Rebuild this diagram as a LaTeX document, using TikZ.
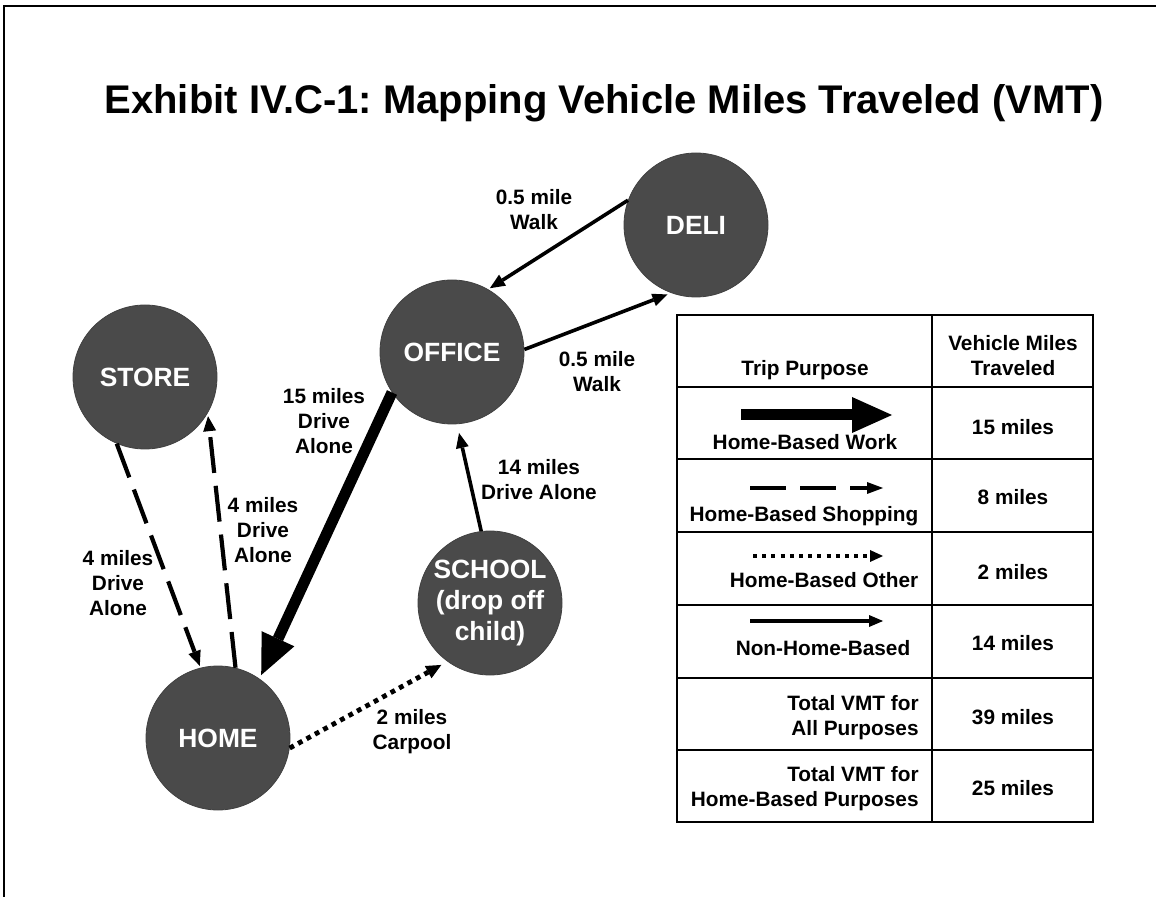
\documentclass[tikz,border=0pt]{standalone}
\usepackage{fontspec}
\setmainfont{Liberation Sans}
\usetikzlibrary{arrows.meta}
\definecolor{nodegray}{HTML}{4A4A4A}
\frenchspacing
\begin{document}
\begin{tikzpicture}[x=0.5pt,y=-0.5pt,
  place/.style={circle,fill=nodegray,draw=black!75,line width=0.4pt,minimum size=72pt,inner sep=0pt,text=white,font=\fontsize{13.2}{15.5}\selectfont\bfseries,align=center},
  lbl/.style={font=\fontsize{10.4}{12.5}\selectfont\bfseries,align=center,inner sep=0pt},
  cell/.style={font=\fontsize{10.4}{12.5}\selectfont\bfseries,inner sep=0pt},
  smalltip/.style={-{Triangle[length=7.5pt,width=6.5pt,line width=0pt]}},
  walkarrow/.style={line width=1.8pt,smalltip},
  workarrow/.style={line width=5.5pt,-{Triangle[length=20pt,width=18pt,line width=0pt]}},
  shoparrow/.style={line width=2.1pt,dash pattern=on 18pt off 6.5pt,smalltip},
  otherarrow/.style={line width=2.4pt,dash pattern=on 2.4pt off 2.4pt,-{Triangle[length=7.5pt,width=7pt,line width=0pt]}},
  gridline/.style={line width=1pt}
]
\useasboundingbox (0,0) rectangle (1156,897);
% frame
\draw[line width=1pt] (4,897) -- (4,6) -- (1156,6);
% title
\node[font=\fontsize{20}{24}\selectfont\bfseries,anchor=base,inner sep=0pt] (title) at (604,114) {Exhibit IV.C-1: Mapping Vehicle Miles Traveled (VMT)};
% places
\node[place] (deli) at (696,225) {DELI};
\node[place] (office) at (452,352) {OFFICE};
\node[place] (store) at (145,377) {STORE};
\node[place] (school) at (490,603) {SCHOOL\\(drop off\\child)};
\node[place] (home) at (218,738) {HOME};
% connectors
\draw[walkarrow,shorten >=1pt] (deli.160) -- (office.60);
\draw[walkarrow,shorten >=2pt] (office.2) -- (deli.250);
\draw[workarrow,shorten >=2pt] (office.214) -- (home.55);
\draw[walkarrow,shorten >=4.5pt] (school.97) -- (office.274);
\draw[shoparrow,shorten >=1pt] (store.247) -- (home.104);
\draw[shoparrow,shorten >=1.5pt] (home.76) -- (store.330);
\draw[otherarrow,shorten >=3.5pt] (home.352) -- (school.234);
% labels
\node[lbl] (l1) at (534,210) {0.5 mile\\Walk};
\node[lbl] (l2) at (597,372) {0.5 mile\\Walk};
\node[lbl] (l3) at (324,421) {15 miles\\Drive\\Alone};
\node[lbl] (l4) at (539,480) {14 miles\\Drive Alone};
\node[lbl] (l5) at (263,530) {4 miles\\Drive\\Alone};
\node[lbl] (l6) at (118,583) {4 miles\\Drive\\Alone};
\node[lbl] (l7) at (412,732) {2 miles\\Carpool};
% table
\draw[gridline] (677,315) rectangle (1093,822);
\draw[gridline] (932,315) -- (932,822);
\foreach \yy in {387,459,532,605,678,750} \draw[gridline] (677,\yy) -- (1093,\yy);
\node[cell] (hdr1) at (805,370) {Trip Purpose};
\node[cell,align=center] (hdr2) at (1013,356) {Vehicle Miles\\Traveled};
\draw[workarrow] (741,415) -- (892,415);
\node[cell] (rw) at (805,442) {Home-Based Work};
\node[cell] (v1) at (1013,427) {15 miles};
\draw[line width=2pt,dash pattern=on 18pt off 7pt,-{Triangle[length=8pt,width=6pt,line width=0pt]}] (750,488) -- (883,488);
\node[cell] (rs) at (804,516) {Home-Based Shopping};
\node[cell] (v2) at (1013,497) {8 miles};
\draw[line width=2pt,dash pattern=on 2pt off 2.6pt,-{Triangle[length=6.5pt,width=6pt,line width=0pt]}] (753,556) -- (883,556);
\node[cell] (ro) at (824,580) {Home-Based Other};
\node[cell] (v3) at (1013,572) {2 miles};
\draw[line width=1.8pt,-{Triangle[length=7pt,width=6pt,line width=0pt]}] (750,621) -- (883,621);
\node[cell] (rn) at (823,648) {Non-Home-Based};
\node[cell] (v4) at (1013,643) {14 miles};
\node[cell,align=right,anchor=east] (t1) at (919,718) {Total VMT for\\All Purposes};
\node[cell] (v5) at (1013,717) {39 miles};
\node[cell,align=right,anchor=east] (t2) at (919,789) {Total VMT for\\Home-Based Purposes};
\node[cell] (v6) at (1013,788) {25 miles};
\end{tikzpicture}
\end{document}
